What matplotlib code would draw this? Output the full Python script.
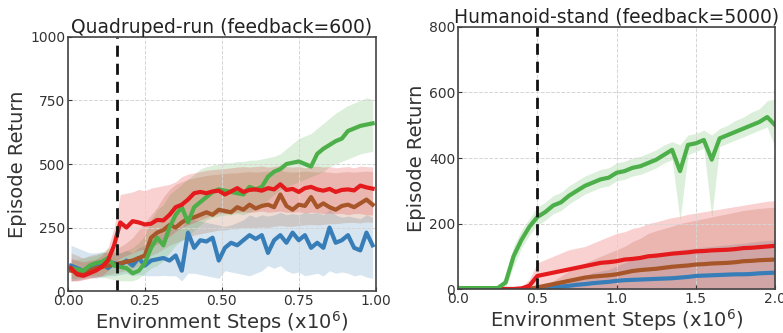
import numpy as np
import matplotlib
matplotlib.use("Agg")
import matplotlib.pyplot as plt

RED = "#e41a1c"
BLUE = "#377eb8"
GREEN = "#4daf4a"
BROWN = "#a65628"

# ---- Quadruped-run (feedback=600), x in 1e6 steps
quad_x = np.linspace(0.01, 0.99, 50)

quad_red = [90, 65, 60, 70, 80, 95, 120, 180, 270, 250, 275, 270, 262, 265, 280, 278, 300, 330, 340, 360,
            385, 390, 385, 392, 395, 380, 392, 405, 390, 398, 400, 395, 405, 400, 420, 398, 402, 390, 405, 410,
            400, 395, 402, 390, 398, 400, 396, 415, 408, 403]
quad_red_lo = [40, 40, 45, 50, 55, 60, 80, 110, 130, 140, 150, 160, 165, 175, 185, 195, 215, 235, 250, 260,
               270, 280, 290, 300, 305, 305, 310, 310, 312, 310, 312, 315, 310, 312, 315, 310, 310, 312, 308, 310,
               310, 305, 308, 305, 305, 300, 305, 305, 300, 300]
quad_red_hi = [130, 120, 115, 120, 125, 140, 170, 250, 380, 385, 390, 400, 395, 405, 410, 415, 420, 430, 450, 460,
               465, 470, 475, 478, 480, 482, 485, 488, 490, 488, 490, 492, 488, 490, 495, 490, 488, 490, 485, 490,
               492, 488, 490, 485, 488, 490, 485, 492, 490, 488]

quad_brown = [80, 75, 70, 80, 90, 95, 100, 105, 110, 115, 120, 130, 140, 210, 230, 240, 260, 250, 270, 285,
              290, 300, 310, 300, 320, 315, 310, 330, 320, 340, 325, 335, 340, 330, 380, 335, 320, 340, 335, 370,
              330, 345, 330, 320, 335, 340, 330, 345, 360, 340]
quad_brown_lo = [40, 40, 45, 50, 55, 60, 65, 70, 75, 80, 85, 100, 120, 140, 150, 165, 180, 190, 200, 210,
                 220, 225, 230, 235, 240, 240, 245, 245, 250, 250, 250, 252, 250, 255, 258, 255, 255, 258, 260, 262,
                 260, 262, 265, 265, 268, 270, 270, 268, 272, 270]
quad_brown_hi = [150, 140, 130, 140, 145, 150, 155, 165, 175, 190, 210, 240, 270, 300, 330, 370, 400, 420, 430, 440,
                 445, 450, 455, 458, 460, 462, 465, 465, 468, 470, 468, 470, 472, 470, 475, 470, 468, 470, 472, 470,
                 468, 470, 468, 465, 468, 470, 468, 470, 472, 470]

quad_green = [90, 85, 80, 100, 110, 115, 130, 100, 95, 90, 70, 80, 110, 170, 210, 180, 250, 300, 330, 270,
              330, 350, 370, 390, 400, 395, 390, 385, 380, 410, 400, 410, 450, 470, 480, 500, 505, 510, 500, 490,
              540, 560, 575, 590, 600, 630, 640, 650, 655, 660]
quad_green_lo = [50, 50, 55, 60, 60, 55, 50, 45, 40, 40, 40, 50, 70, 90, 100, 120, 150, 180, 200, 210,
                 240, 260, 280, 290, 295, 300, 300, 305, 300, 310, 320, 340, 360, 380, 400, 410, 420, 430, 440, 450,
                 460, 470, 490, 500, 510, 520, 530, 540, 545, 550]
quad_green_hi = [120, 125, 130, 135, 140, 150, 170, 160, 150, 160, 170, 190, 220, 280, 320, 340, 380, 400, 420, 440,
                 460, 480, 490, 495, 500, 505, 505, 510, 510, 515, 515, 520, 525, 530, 540, 560, 580, 600, 610, 620,
                 640, 660, 680, 700, 715, 730, 740, 750, 760, 755]

quad_blue = [100, 90, 80, 95, 100, 110, 90, 110, 100, 120, 100, 130, 100, 120, 125, 130, 120, 140, 80, 230,
             170, 200, 195, 210, 120, 170, 190, 180, 200, 220, 205, 220, 150, 200, 220, 190, 230, 200, 220, 170,
             190, 170, 250, 190, 200, 220, 170, 160, 230, 180]
quad_blue_lo = [40, 45, 50, 55, 50, 55, 60, 60, 65, 70, 60, 65, 60, 60, 60, 62, 60, 60, 40, 70,
                70, 65, 60, 55, 50, 80, 75, 70, 65, 60, 70, 80, 100, 90, 100, 80, 70, 75, 60, 65,
                70, 60, 80, 70, 75, 70, 60, 65, 55, 50]
quad_blue_hi = [180, 170, 160, 150, 150, 155, 150, 150, 150, 160, 150, 170, 180, 200, 220, 230, 240, 260, 250, 290,
                280, 275, 270, 265, 260, 255, 260, 270, 280, 300, 290, 300, 295, 300, 310, 300, 305, 300, 310, 305,
                310, 300, 320, 300, 290, 295, 290, 285, 300, 290]

# ---- Humanoid-stand (feedback=5000)
hum_x = np.linspace(0.0, 2.0, 41)

hum_green = [3, 3, 3, 3, 3, 3, 20, 100, 150, 190, 220, 235, 255, 265, 285, 300, 315, 325, 335, 340,
             355, 360, 370, 375, 385, 395, 410, 425, 360, 440, 445, 455, 395, 460, 470, 480, 490, 500, 510, 525,
             500]
hum_green_lo = [0, 0, 0, 0, 0, 0, 5, 70, 125, 165, 195, 210, 230, 240, 260, 275, 290, 300, 310, 315,
                330, 335, 345, 350, 360, 370, 385, 395, 210, 410, 420, 430, 220, 435, 445, 455, 465, 475, 485, 495,
                430]
hum_green_hi = [6, 6, 6, 6, 6, 6, 40, 130, 180, 215, 250, 265, 285, 295, 315, 330, 345, 355, 365, 370,
                385, 390, 400, 405, 415, 425, 440, 450, 440, 470, 475, 485, 470, 490, 500, 515, 525, 540, 550, 575,
                580]

hum_red = [0, 0, 0, 0, 0, 0, 0, 0, 2, 10, 40, 45, 50, 55, 60, 65, 70, 75, 80, 82,
           85, 90, 92, 95, 100, 102, 105, 108, 110, 112, 115, 116, 118, 119, 120, 122, 125, 126, 128, 130,
           132]
hum_red_hi = [0, 0, 0, 0, 0, 0, 0, 0, 5, 30, 80, 90, 100, 110, 120, 125, 130, 140, 150, 160,
              170, 175, 185, 190, 200, 205, 212, 218, 222, 228, 232, 236, 240, 244, 248, 252, 256, 260, 264, 268,
              270]
hum_red_lo = [0] * 41

hum_brown = [0, 0, 0, 0, 0, 0, 0, 0, 0, 0, 5, 10, 15, 20, 25, 30, 35, 38, 40, 42,
             45, 50, 55, 58, 60, 62, 65, 68, 70, 72, 75, 76, 78, 79, 80, 82, 85, 86, 88, 89,
             90]
hum_brown_hi = [0, 0, 0, 0, 0, 0, 0, 0, 0, 2, 8, 15, 25, 40, 55, 70, 80, 90, 100, 110,
                120, 130, 145, 155, 170, 178, 185, 192, 200, 205, 210, 215, 220, 225, 230, 235, 240, 243, 246, 248,
                250]
hum_brown_lo = [0] * 41

hum_blue = [0, 0, 0, 0, 0, 0, 0, 0, 0, 0, 2, 4, 6, 8, 10, 13, 15, 18, 20, 22,
            25, 27, 28, 29, 30, 31, 32, 33, 35, 37, 40, 41, 42, 43, 44, 45, 45, 46, 48, 49,
            50]
hum_blue_hi = [0, 0, 0, 0, 0, 0, 0, 0, 0, 0, 3, 6, 10, 15, 20, 30, 40, 50, 55, 60,
               70, 80, 90, 95, 100, 105, 110, 115, 120, 122, 125, 128, 130, 133, 135, 138, 140, 143, 146, 148,
               150]
hum_blue_lo = [0] * 41


def panel(ax, x, series, title, xlim, ylim, xticks, yticks, xfmt, vline):
    for mean, lo, hi, color in series:
        ax.fill_between(x, lo, hi, color=color, alpha=0.2, linewidth=0)
    for mean, lo, hi, color in series:
        ax.plot(x, mean, color=color, linewidth=3)
    ax.axvline(vline, color="#111111", linestyle="--", linewidth=2, dashes=(4, 2.5))
    ax.set_xlim(*xlim)
    ax.set_ylim(*ylim)
    ax.set_xticks(xticks)
    ax.set_xticklabels([xfmt.format(t) for t in xticks])
    ax.set_yticks(yticks)
    ax.grid(True, linestyle="--", color="#d5d5d5", linewidth=0.7)
    ax.tick_params(direction="in", labelsize=10, colors="#333333", length=3, pad=2)
    for s in ax.spines.values():
        s.set_color("#444444")
        s.set_linewidth(1.2)
    ax.set_title(title, fontsize=13.5, color="#222222", pad=3)
    ax.set_xlabel("Environment Steps (x10$^6$)", fontsize=14, color="#333333", labelpad=1)
    ax.set_ylabel("Episode Return", fontsize=14, color="#333333", labelpad=2)


fig = plt.figure(figsize=(7.83, 3.33), dpi=100)
ax1 = fig.add_axes([0.0868, 0.126, 0.393, 0.763])
ax2 = fig.add_axes([0.585, 0.132, 0.405, 0.787])

panel(ax1, quad_x,
      [(quad_blue, quad_blue_lo, quad_blue_hi, BLUE),
       (quad_brown, quad_brown_lo, quad_brown_hi, BROWN),
       (quad_green, quad_green_lo, quad_green_hi, GREEN),
       (quad_red, quad_red_lo, quad_red_hi, RED)],
      "Quadruped-run (feedback=600)", (0, 1), (0, 1000),
      [0, 0.25, 0.5, 0.75, 1.0], [0, 250, 500, 750, 1000], "{:.2f}", 0.16)

panel(ax2, hum_x,
      [(hum_blue, hum_blue_lo, hum_blue_hi, BLUE),
       (hum_brown, hum_brown_lo, hum_brown_hi, BROWN),
       (hum_red, hum_red_lo, hum_red_hi, RED),
       (hum_green, hum_green_lo, hum_green_hi, GREEN)],
      "Humanoid-stand (feedback=5000)", (0, 2), (0, 800),
      [0, 0.5, 1.0, 1.5, 2.0], [0, 200, 400, 600, 800], "{:.1f}", 0.5)

fig.savefig("out.png", dpi=100)
